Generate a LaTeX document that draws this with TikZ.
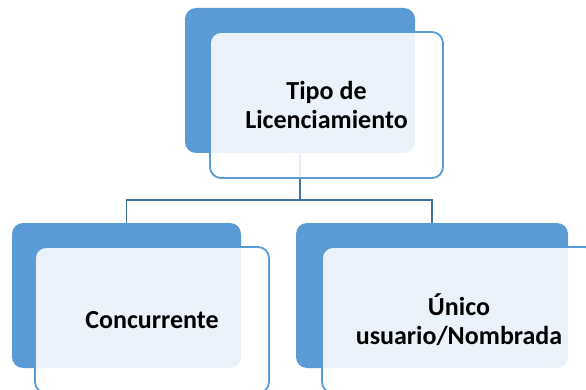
\documentclass[tikz,border=0pt]{standalone}
\usepackage{fontspec}
\setmainfont{Carlito}
\definecolor{accent}{HTML}{5B9BD5}
\definecolor{linkc}{HTML}{41719C}
\tikzset{
  backbox/.style={draw=none, fill=accent, rounded corners=11pt, inner sep=0pt},
  frontbox/.style={draw=accent, line width=1.8pt, fill=white, fill opacity=0.88, text opacity=1, rounded corners=11pt, inner sep=0pt, align=center, font=\bfseries\fontsize{26}{29}\selectfont},
  link/.style={draw=linkc, line width=1.6pt}
}
\begin{document}
\begin{tikzpicture}[x=1pt,y=-1pt]
\useasboundingbox (0,0) rectangle (586,390);
\clip (0,0) rectangle (586,390);
% back boxes
\node[backbox, minimum width=230pt, minimum height=145pt] (topb) at (300,80.5) {};
\node[backbox, minimum width=229pt, minimum height=145pt] (leftb) at (126.5,295.5) {};
\node[backbox, minimum width=272pt, minimum height=145pt] (rightb) at (432,295.5) {};
% connectors
\coordinate (mid) at (300,200);
\draw[link] (topb.south) -- (mid);
\draw[link] (mid) -| (leftb.north);
\draw[link] (mid) -| (rightb.north);
% front boxes
\node[frontbox, minimum width=233pt, minimum height=146pt] (topf) at (326.5,105) {Tipo de\\Licenciamiento};
\node[frontbox, minimum width=234pt, minimum height=146pt] (leftf) at (152,320) {Concurrente};
\node[frontbox, minimum width=274pt, minimum height=146pt] (rightf) at (459,320) {Único\\usuario/Nombrada};
\end{tikzpicture}
\end{document}
